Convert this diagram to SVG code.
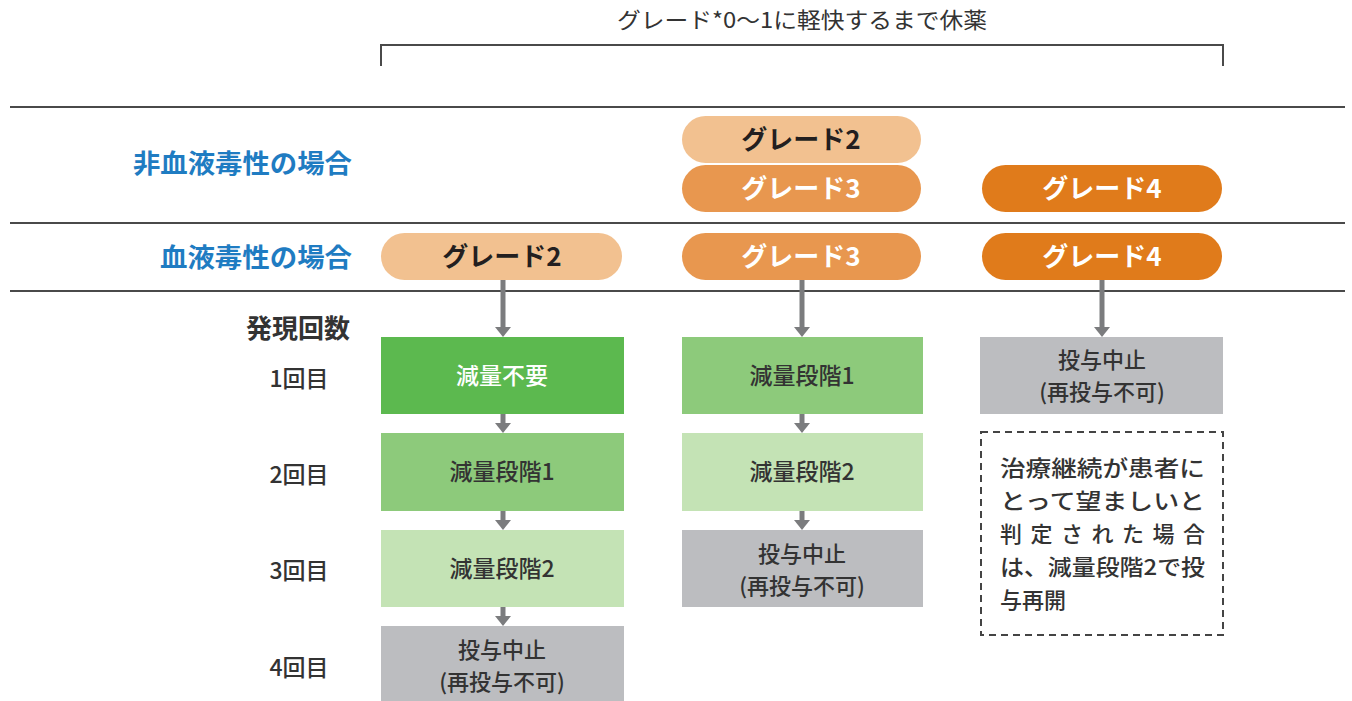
<svg xmlns="http://www.w3.org/2000/svg" width="1352" height="701" viewBox="0 0 1352 701">
<style>
text{font-family:"Noto Sans CJK JP","Noto Sans",sans-serif;}
.rule{stroke:#4a4a4a;stroke-width:2;fill:none}
.blue{fill:#1f7cc2;font-size:26px;font-weight:700;text-anchor:end}
.pill-t{font-size:26px;font-weight:700;text-anchor:middle}
.box-t{font-size:23px;font-weight:500;text-anchor:middle;fill:#333}
.stop-t{font-size:22px;font-weight:500;text-anchor:middle;fill:#333}
.row{font-size:23px;font-weight:500;text-anchor:middle;fill:#333}
.note{font-size:22px;font-weight:500;fill:#333}
.g1{fill:#5cb94f}.g2{fill:#8dca7b}.g3{fill:#c4e3b5}.gy{fill:#bcbdc0}
.p2{fill:#f2c190}.p3{fill:#e8974f}.p4{fill:#e07b1b}
.arr{stroke:#7b7c7e;stroke-width:5;fill:none}
</style>
<defs>
<marker id="ah" viewBox="0 0 10 16" refX="0" refY="8" markerWidth="10" markerHeight="16" orient="auto" markerUnits="userSpaceOnUse">
<path d="M0,0 L10,8 L0,16 z" fill="#7b7c7e"/>
</marker>
</defs>
<g id="header">
<text x="802" y="28" font-size="22" text-anchor="middle" fill="#333" textLength="370" lengthAdjust="spacingAndGlyphs">グレード*0～1に軽快するまで休薬</text>
<path class="rule" d="M381,66 V45 H1223 V66"/>
</g>
<g id="rules">
<line class="rule" x1="10" y1="107" x2="1345" y2="107"/>
<line class="rule" x1="10" y1="223" x2="1345" y2="223"/>
<line class="rule" x1="10" y1="291" x2="1345" y2="291"/>
</g>
<g id="labels">
<text class="blue" x="352" y="173" textLength="219" lengthAdjust="spacingAndGlyphs">非血液毒性の場合</text>
<text class="blue" x="352" y="267" textLength="192" lengthAdjust="spacingAndGlyphs">血液毒性の場合</text>
<text x="298" y="338" font-size="26" font-weight="700" text-anchor="middle" fill="#333">発現回数</text>
<text class="row" x="299" y="387">1回目</text>
<text class="row" x="299" y="483">2回目</text>
<text class="row" x="299" y="579">3回目</text>
<text class="row" x="299" y="676">4回目</text>
</g>
<g id="connectors">
<line class="arr" x1="503" y1="280" x2="503" y2="327" marker-end="url(#ah)"/>
<line class="arr" x1="503" y1="414" x2="503" y2="423" marker-end="url(#ah)"/>
<line class="arr" x1="503" y1="511" x2="503" y2="520" marker-end="url(#ah)"/>
<line class="arr" x1="503" y1="607" x2="503" y2="616" marker-end="url(#ah)"/>
<line class="arr" x1="802" y1="280" x2="802" y2="327" marker-end="url(#ah)"/>
<line class="arr" x1="802" y1="414" x2="802" y2="423" marker-end="url(#ah)"/>
<line class="arr" x1="802" y1="511" x2="802" y2="520" marker-end="url(#ah)"/>
<line class="arr" x1="1102" y1="280" x2="1102" y2="327" marker-end="url(#ah)"/>
</g>
<g id="pill-nh-g2"><rect class="p2" x="682" y="116" width="239" height="47" rx="23.5"/><text class="pill-t" x="801" y="149" fill="#231f20">グレード2</text></g>
<g id="pill-nh-g3"><rect class="p3" x="682" y="165" width="239" height="47" rx="23.5"/><text class="pill-t" x="801" y="198" fill="#fff">グレード3</text></g>
<g id="pill-nh-g4"><rect class="p4" x="982" y="165" width="240" height="47" rx="23.5"/><text class="pill-t" x="1102" y="198" fill="#fff">グレード4</text></g>
<g id="pill-h-g2"><rect class="p2" x="381" y="233" width="241" height="47" rx="23.5"/><text class="pill-t" x="502" y="266" fill="#231f20">グレード2</text></g>
<g id="pill-h-g3"><rect class="p3" x="682" y="233" width="239" height="47" rx="23.5"/><text class="pill-t" x="801" y="266" fill="#fff">グレード3</text></g>
<g id="pill-h-g4"><rect class="p4" x="982" y="233" width="240" height="47" rx="23.5"/><text class="pill-t" x="1102" y="266" fill="#fff">グレード4</text></g>
<g id="c1-b1"><rect class="g1" x="381" y="337" width="243" height="77"/><text class="box-t" x="502" y="384" style="fill:#fff">減量不要</text></g>
<g id="c1-b2"><rect class="g2" x="381" y="433" width="243" height="78"/><text class="box-t" x="502" y="480">減量段階1</text></g>
<g id="c1-b3"><rect class="g3" x="381" y="530" width="243" height="77"/><text class="box-t" x="502" y="577">減量段階2</text></g>
<g id="c1-b4"><rect class="gy" x="381" y="626" width="243" height="75"/><text class="stop-t" x="502" y="658">投与中止</text><text class="stop-t" x="502" y="690">(再投与不可)</text></g>
<g id="c2-b1"><rect class="g2" x="682" y="337" width="241" height="77"/><text class="box-t" x="802" y="384">減量段階1</text></g>
<g id="c2-b2"><rect class="g3" x="682" y="433" width="241" height="78"/><text class="box-t" x="802" y="480">減量段階2</text></g>
<g id="c2-b3"><rect class="gy" x="682" y="530" width="241" height="77"/><text class="stop-t" x="802" y="562">投与中止</text><text class="stop-t" x="802" y="594">(再投与不可)</text></g>
<g id="c3-b1"><rect class="gy" x="980" y="337" width="243" height="77"/><text class="stop-t" x="1102" y="368">投与中止</text><text class="stop-t" x="1102" y="400">(再投与不可)</text></g>
<g id="c3-note">
<rect x="981" y="432" width="242" height="203" fill="none" stroke="#444" stroke-width="2" stroke-dasharray="7,5"/>
<text class="note" x="1000" y="476" textLength="205" lengthAdjust="spacingAndGlyphs">治療継続が患者に</text>
<text class="note" x="1000" y="509" textLength="205" lengthAdjust="spacingAndGlyphs">とって望ましいと</text>
<text class="note" x="1000" y="542" textLength="205" lengthAdjust="spacing">判定された場合</text>
<text class="note" x="1000" y="575" textLength="205" lengthAdjust="spacingAndGlyphs">は、減量段階2で投</text>
<text class="note" x="1000" y="608">与再開</text>
</g>
</svg>
